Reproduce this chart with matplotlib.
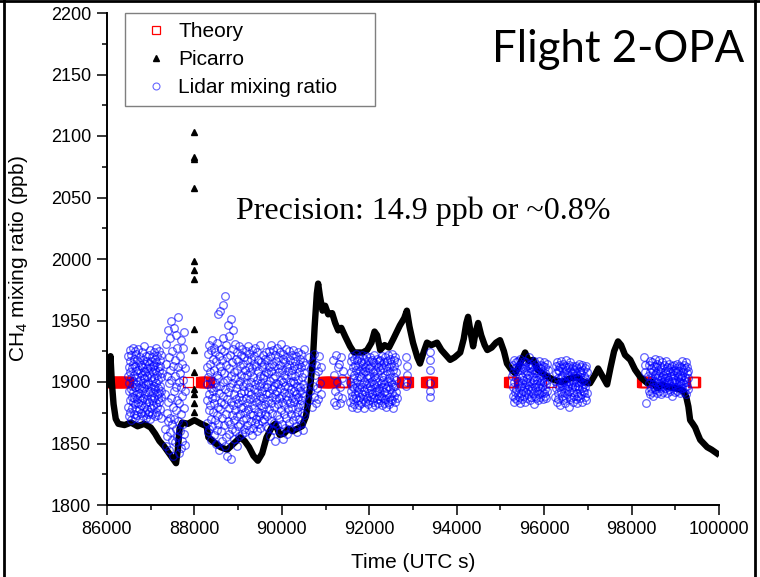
import numpy as np
import matplotlib
matplotlib.use("Agg")
import matplotlib.pyplot as plt
from matplotlib.lines import Line2D
from matplotlib.ticker import MultipleLocator

plt.rcParams['font.family'] = ['Liberation Sans', 'DejaVu Sans']
plt.rcParams['mathtext.default'] = 'regular'

# ---------------- data ----------------
x_ticks = [86000, 88000, 90000, 92000, 94000, 96000, 98000, 100000]
y_ticks = [1800, 1850, 1900, 1950, 2000, 2050, 2100, 2150, 2200]

theory_value = 1900
theory_start = [86000, 87850, 88150, 90940, 91380, 92750, 93300, 95200, 96150, 98230, 99400]
theory_end   = [86480, 87850, 88330, 91170, 91450, 92890, 93440, 95280, 96150, 98330, 99460]
theory_step = 20

pic_t = [86000, 86040, 86080, 86110, 86150, 86200, 86260, 86400, 86550, 86700, 86850, 87000,
         87100, 87200, 87300, 87400, 87500, 87580, 87620, 87660, 87720, 87850, 88000, 88150,
         88280, 88320, 88450, 88600, 88750, 88900, 89050, 89150, 89250, 89350, 89450, 89550,
         89650, 89780, 89850, 89950, 90050, 90150, 90250, 90350, 90460, 90550, 90600, 90660,
         90710, 90750, 90800, 90830, 90870, 90930, 90990, 91060, 91150, 91220, 91290, 91360,
         91450, 91560, 91650, 91750, 91850, 91950, 92050, 92120, 92180, 92250, 92350, 92450,
         92550, 92700, 92800, 92860, 92920, 93000, 93100, 93160, 93250, 93320, 93420, 93550,
         93650, 93750, 93850, 93950, 94080, 94160, 94220, 94260, 94320, 94375, 94430, 94490,
         94560, 94640, 94700, 94800, 94900, 94990, 95080, 95150, 95250, 95340, 95450, 95565,
         95650, 95750, 95850, 96000, 96200, 96400, 96600, 96755, 96900, 97050, 97150, 97235,
         97330, 97440, 97520, 97600, 97690, 97760, 97850, 97970, 98080, 98200, 98360, 98470,
         98590, 98700, 98815, 99000, 99180, 99250, 99300, 99340, 99400, 99455, 99510, 99570,
         99650, 99730, 99830, 99950]
pic_v = [1898, 1910, 1921, 1900, 1882, 1870, 1866, 1865, 1867, 1864, 1866, 1863,
         1858, 1852, 1848, 1843, 1838, 1834, 1845, 1862, 1867, 1866, 1869, 1866,
         1864, 1855, 1851, 1847, 1845, 1850, 1855, 1852, 1847, 1840, 1836, 1842,
         1855, 1864, 1866, 1857, 1858, 1862, 1860, 1862, 1864, 1872, 1883, 1900,
         1918, 1945, 1972, 1980, 1970, 1958, 1962, 1955, 1956, 1948, 1942, 1944,
         1937, 1929, 1924, 1924, 1924, 1926, 1932, 1941, 1938, 1926, 1930, 1928,
         1935, 1946, 1952, 1958, 1945, 1932, 1920, 1915, 1925, 1932, 1930, 1932,
         1926, 1922, 1918, 1920, 1924, 1935, 1948, 1953, 1940, 1929, 1940, 1948,
         1938, 1930, 1926, 1928, 1932, 1934, 1925, 1915, 1910, 1907, 1915, 1924,
         1917, 1918, 1910, 1906, 1902, 1900, 1903, 1904, 1900, 1899, 1905, 1911,
         1905, 1898, 1912, 1925, 1933, 1930, 1922, 1918, 1910, 1904, 1899, 1900,
         1895, 1898, 1896, 1895, 1893, 1888, 1880, 1869, 1866, 1863, 1858, 1853,
         1850, 1847, 1845, 1842]

spike_t = [87990, 87990, 87995, 87990, 87990, 87990, 87995, 87990, 87990, 87990, 87995, 87990, 87990, 87995]
spike_v = [2103, 2083, 2081, 2058, 1998, 1991, 1984, 1943, 1926, 1908, 1894, 1890, 1883, 1876]

lidar_c1_span = (86480, 87250)
lidar_c1 = [1905, 1880, 1921, 1893, 1872, 1912, 1899, 1926, 1885, 1908, 1876, 1917, 1894, 1903, 1869,
            1922, 1888, 1911, 1897, 1879, 1928, 1901, 1884, 1915, 1892, 1874, 1919, 1906, 1887, 1925,
            1896, 1871, 1913, 1882, 1909, 1898, 1877, 1923, 1890, 1904, 1886, 1918, 1873, 1900, 1927,
            1883, 1910, 1895, 1878, 1916, 1891, 1907, 1870, 1920, 1889, 1902, 1881, 1914, 1897, 1875,
            1924, 1893, 1906, 1885, 1912, 1899, 1872, 1918, 1887, 1909, 1880, 1929, 1895, 1903, 1876,
            1915, 1890, 1908, 1883, 1921, 1898, 1871, 1911, 1886, 1905, 1878, 1917, 1892, 1900, 1874,
            1898, 1915, 1876, 1907, 1922, 1884, 1893, 1911, 1870, 1926, 1889, 1904, 1879, 1917, 1896,
            1885, 1920, 1901, 1874, 1913, 1892, 1908, 1881, 1924, 1897, 1887, 1914, 1903, 1872, 1919,
            1894, 1910, 1883, 1928, 1899, 1876, 1916, 1890, 1906, 1880, 1921, 1895, 1886, 1912, 1902,
            1873, 1925, 1891, 1909, 1884, 1918, 1897, 1878, 1913, 1904, 1888, 1922, 1893, 1871, 1907]

lidar_c2_span = (87330, 87790)
lidar_c2 = [1890, 1862, 1915, 1848, 1931, 1875, 1905, 1856, 1942, 1884, 1868, 1920, 1899, 1845, 1936,
            1871, 1910, 1859, 1950, 1887, 1902, 1866, 1925, 1853, 1880, 1913, 1840, 1944, 1893, 1870,
            1918, 1851, 1905, 1877, 1938, 1862, 1896, 1928, 1855, 1885, 1912, 1868, 1953, 1842, 1900,
            1883, 1921, 1860, 1907, 1846, 1934, 1874, 1896, 1915, 1852, 1889, 1928, 1866, 1902, 1941,
            1858, 1879, 1911, 1849, 1893]

lidar_c3_span = (88280, 90530)
lidar_c3 = [1885, 1912, 1867, 1898, 1923, 1859, 1904, 1877, 1930, 1890, 1862, 1915, 1881, 1908, 1853,
            1926, 1895, 1870, 1934, 1887, 1901, 1864, 1919, 1876, 1893, 1928, 1857, 1910, 1883, 1899,
            1869, 1924, 1888, 1850, 1917, 1896, 1873, 1906, 1861, 1932, 1880, 1955, 1903, 1866, 1921,
            1891, 1845, 1913, 1878, 1958, 1897, 1860, 1927, 1884, 1909, 1852, 1918, 1871, 1900, 1936,
            1889, 1963, 1865, 1907, 1882, 1925, 1848, 1894, 1970, 1874, 1914, 1855, 1930, 1886, 1902,
            1840, 1920, 1868, 1946, 1892, 1879, 1911, 1858, 1937, 1896, 1866, 1922, 1884, 1837, 1905,
            1951, 1873, 1916, 1862, 1899, 1942, 1881, 1927, 1854, 1908, 1890, 1869, 1931, 1877, 1903,
            1860, 1919, 1886, 1895, 1848, 1924, 1872, 1910, 1883, 1864, 1917, 1898, 1856, 1929, 1888,
            1901, 1874, 1913, 1866, 1922, 1891, 1879, 1906, 1858, 1927, 1885, 1897, 1869, 1915, 1880,
            1904, 1862, 1920, 1893, 1876, 1910, 1859, 1925, 1887, 1899, 1871, 1918, 1883, 1906, 1865,
            1929, 1892, 1878, 1912, 1861, 1923, 1896, 1874, 1908, 1886, 1868, 1919, 1890, 1900, 1857,
            1926, 1881, 1911, 1873, 1904, 1863, 1921, 1894, 1879, 1915, 1867, 1928, 1888, 1898, 1870,
            1913, 1884, 1902, 1860, 1924, 1892, 1876, 1909, 1866, 1918, 1885, 1897, 1872, 1930, 1889,
            1905, 1863, 1916, 1881, 1899, 1875, 1912, 1893, 1868, 1922, 1887, 1903, 1879, 1915, 1870,
            1906, 1896, 1882, 1919, 1874, 1908, 1890, 1864, 1924, 1898,
            1896, 1872, 1918, 1885, 1907, 1863, 1925, 1891, 1878, 1912, 1901, 1856, 1921, 1883, 1909,
            1868, 1930, 1894, 1875, 1915, 1888, 1903, 1861, 1926, 1897, 1880, 1913, 1867, 1922, 1890,
            1905, 1852, 1917, 1886, 1899, 1873, 1928, 1893, 1865, 1911, 1882, 1920, 1898, 1870, 1908,
            1887, 1924, 1860, 1914, 1895, 1877, 1902, 1889, 1931, 1866, 1910, 1884, 1919, 1900, 1854,
            1923, 1892, 1874, 1906, 1881, 1916, 1897, 1863, 1927, 1889, 1903, 1871, 1912, 1885, 1920,
            1858, 1909, 1896, 1878, 1925, 1891, 1867, 1914, 1900, 1883, 1918, 1874, 1906, 1894, 1862,
            1922, 1887, 1910, 1879, 1901, 1869, 1926, 1893, 1884, 1913, 1899, 1872, 1917, 1886, 1905,
            1864, 1921, 1890, 1876, 1911, 1897, 1859, 1924, 1888, 1902, 1880, 1915, 1870, 1908, 1893,
            1882, 1919, 1896, 1866, 1912, 1885, 1923, 1875, 1904, 1891, 1861, 1916, 1898, 1881, 1927,
            1889, 1907, 1873, 1914, 1895]

lidar_c4_span = (90600, 90900)
lidar_c4 = [1902, 1885, 1920, 1893, 1911, 1880, 1916, 1897, 1888, 1923,
            1906, 1883, 1914, 1895, 1909, 1886, 1921, 1899, 1890, 1912]

lidar_c5_span = (91170, 91400)
lidar_c5 = [1918, 1884, 1906, 1893, 1922, 1881, 1900, 1912, 1889, 1915, 1896, 1883, 1920, 1903, 1887, 1909]

lidar_c6_span = (91560, 92630)
lidar_c6 = [1900, 1884, 1917, 1893, 1908, 1880, 1921, 1897, 1889, 1912, 1903, 1886, 1919, 1895, 1906,
            1882, 1914, 1899, 1890, 1923, 1887, 1910, 1896, 1879, 1918, 1902, 1892, 1913, 1885, 1905,
            1920, 1894, 1881, 1909, 1898, 1888, 1916, 1904, 1883, 1911, 1896, 1922, 1890, 1907, 1886,
            1915, 1900, 1879, 1919, 1893, 1909, 1884, 1912, 1898, 1889, 1921, 1903, 1887, 1914, 1895,
            1906, 1882, 1917, 1899, 1891, 1911, 1885, 1920, 1897, 1904, 1888, 1913, 1894, 1880, 1918,
            1901, 1890, 1908, 1884, 1916, 1898, 1887, 1922, 1905, 1892, 1910, 1881, 1915, 1896, 1903,
            1886, 1919, 1893, 1907, 1883, 1912, 1900, 1889, 1917, 1895,
            1893, 1910, 1885, 1918, 1899, 1889, 1914, 1904, 1881, 1921, 1896, 1887, 1911, 1902, 1883,
            1916, 1898, 1892, 1920, 1906, 1886, 1913, 1895, 1880, 1917, 1901, 1890, 1909, 1884, 1922,
            1897, 1888, 1912, 1903, 1882, 1919, 1894, 1907, 1886, 1915, 1900, 1891, 1923, 1898, 1885,
            1910, 1896, 1879, 1918, 1904, 1889, 1913, 1897, 1884, 1920, 1902, 1892, 1908, 1887, 1916]

lidar_c7_t = [92850, 92860, 92870, 92860, 92850, 93380, 93390, 93400, 93390, 93380, 93400]
lidar_c7 = [1920, 1913, 1906, 1900, 1897, 1924, 1918, 1910, 1899, 1893, 1888]

lidar_c8_span = (95270, 96080)
lidar_c8 = [1905, 1889, 1914, 1896, 1908, 1884, 1918, 1900, 1892, 1911, 1887, 1903, 1916, 1894, 1909,
            1885, 1912, 1898, 1890, 1917, 1901, 1888, 1913, 1895, 1906, 1883, 1919, 1897, 1910, 1891,
            1904, 1886, 1915, 1899, 1893, 1911, 1902, 1889, 1917, 1896, 1907, 1884, 1912, 1900, 1892,
            1916, 1898, 1887, 1909, 1903, 1894, 1914, 1890, 1906, 1897, 1920, 1885, 1911, 1901, 1893,
            1908, 1888, 1915, 1899, 1895, 1913, 1904, 1891, 1910, 1882, 1902, 1917, 1896, 1907, 1889,
            1898, 1910, 1887, 1915, 1902, 1893, 1908, 1885, 1912, 1897, 1904, 1890, 1917, 1899, 1895,
            1911, 1888, 1906, 1901, 1914, 1892, 1909, 1896, 1886, 1913, 1903, 1891, 1916, 1900, 1894,
            1907, 1889, 1912, 1898, 1905, 1887, 1915, 1902, 1893, 1910]

lidar_c9_span = (96250, 96980)
lidar_c9 = [1901, 1888, 1913, 1895, 1907, 1884, 1916, 1898, 1891, 1910, 1903, 1886, 1914, 1896, 1909,
            1881, 1912, 1899, 1893, 1917, 1904, 1889, 1911, 1897, 1906, 1885, 1915, 1900, 1892, 1908,
            1902, 1883, 1913, 1895, 1910, 1887, 1918, 1899, 1894, 1906, 1890, 1912, 1897, 1905, 1880,
            1914, 1901, 1893, 1909, 1886, 1916, 1898, 1903, 1888, 1911, 1896, 1907, 1884, 1913, 1900,
            1892, 1910, 1889, 1905, 1897,
            1896, 1908, 1886, 1913, 1900, 1891, 1906, 1883, 1911, 1897, 1903, 1889, 1915, 1899, 1894,
            1909, 1887, 1904, 1900, 1912, 1890, 1907, 1895, 1884, 1914, 1902, 1893, 1910, 1898, 1892,
            1905, 1888, 1911, 1896, 1903, 1885, 1913, 1900, 1891, 1908]

lidar_c10_span = (98380, 99300)
lidar_c10 = [1905, 1893, 1914, 1899, 1908, 1890, 1917, 1902, 1895, 1911, 1904, 1892, 1916, 1898, 1909,
             1889, 1913, 1901, 1896, 1919, 1906, 1894, 1912, 1900, 1907, 1891, 1915, 1903, 1897, 1910,
             1905, 1893, 1918, 1899, 1908, 1895, 1913, 1902, 1890, 1911, 1904, 1897, 1916, 1900, 1906,
             1892, 1914, 1901, 1898, 1909, 1903, 1895, 1917, 1899, 1907, 1891, 1912, 1904, 1896, 1910,
             1902, 1894, 1915, 1900, 1908, 1893, 1911, 1905, 1897, 1913, 1901, 1889, 1909, 1903, 1896,
             1914, 1900, 1906, 1892, 1910,
             1902, 1896, 1911, 1899, 1907, 1893, 1915, 1904, 1897, 1909, 1901, 1894, 1913, 1900, 1906,
             1891, 1912, 1903, 1898, 1917, 1905, 1895, 1910, 1899, 1908, 1892, 1914, 1902, 1896, 1911,
             1904, 1890, 1916, 1900, 1907, 1897, 1912, 1903, 1894, 1909]
lidar_c10_extra_t = [98290, 98310, 98330, 98300]
lidar_c10_extra = [1920, 1914, 1883, 1908]

legend_labels = ["Theory", "Picarro", "Lidar mixing ratio"]
title_text = "Flight 2-OPA"
note_text = "Precision: 14.9 ppb or ~0.8%"

# ---------------- figure ----------------
W, H = 760, 577
fig = plt.figure(figsize=(W / 100, H / 100), dpi=100)
ax = fig.add_axes([107 / W, 1 - 505 / H, 612 / W, 492 / H])

lidar_blue = (0.0, 0.0, 1.0, 0.6)

# Theory
th_t = np.concatenate([np.arange(s, e + 1, theory_step) for s, e in zip(theory_start, theory_end)])
ax.plot(th_t, np.full(th_t.shape, theory_value, dtype=float), ls='none', marker='s', ms=7,
        mfc='none', mec='red', mew=0.9, zorder=2)

# Picarro
ax.plot(pic_t, pic_v, color='black', lw=4.6, zorder=3)
ax.plot(spike_t, spike_v, ls='none', marker='^', ms=4, color='black', zorder=3)

# Lidar
spans = [lidar_c1_span, lidar_c2_span, lidar_c3_span, lidar_c4_span, lidar_c5_span,
         lidar_c6_span, lidar_c8_span, lidar_c9_span, lidar_c10_span]
vals = [lidar_c1, lidar_c2, lidar_c3, lidar_c4, lidar_c5, lidar_c6, lidar_c8, lidar_c9, lidar_c10]
lid_kw = dict(ls='none', marker='o', ms=5.5, mfc='none', mec=lidar_blue, mew=0.9, zorder=4)
for (t0, t1), v in zip(spans, vals):
    ax.plot(np.linspace(t0, t1, len(v)), v, **lid_kw)
ax.plot(lidar_c7_t, lidar_c7, **lid_kw)
ax.plot(lidar_c10_extra_t, lidar_c10_extra, **lid_kw)

# axes styling
ax.set_xlim(86000, 100000)
ax.set_ylim(1800, 2200)
ax.set_xticks(x_ticks)
ax.set_yticks(y_ticks)
ax.xaxis.set_minor_locator(MultipleLocator(1000))
ax.yaxis.set_minor_locator(MultipleLocator(25))
for s in ['top', 'right']:
    ax.spines[s].set_visible(False)
for s in ['left', 'bottom']:
    ax.spines[s].set_linewidth(1.4)
ax.tick_params(which='major', direction='out', length=7, width=1.1, labelsize=13, pad=4.5)
ax.tick_params(which='minor', direction='out', length=3.6, width=1.1)

ax.set_xlabel("Time (UTC s)", fontsize=15, va='center', ha='center')
ax.xaxis.set_label_coords(0.5, (505 - 563) / 492)
ax.set_ylabel("CH$_4$ mixing ratio (ppb)", fontsize=15, va='center', ha='center')
ax.yaxis.set_label_coords((18 - 107) / 612, 0.5)

# legend
h1 = Line2D([], [], ls='none', marker='s', ms=6, mfc='none', mec='red', mew=0.9)
h2 = Line2D([], [], ls='none', marker='^', ms=4, color='black')
h3 = Line2D([], [], ls='none', marker='o', ms=5, mfc='none', mec=lidar_blue, mew=0.8)
leg = ax.legend([h1, h2, h3], legend_labels, loc='upper left',
                bbox_to_anchor=((125 - 107) / 612, 1.0, 250 / 612, 0.0), mode='expand',
                borderaxespad=0, fontsize=15, frameon=True, fancybox=False,
                edgecolor='#7f7f7f', framealpha=1, borderpad=0.45, labelspacing=0.42,
                handlelength=2.1, handletextpad=0.0)
leg.get_frame().set_linewidth(1.0)

# texts
fig.text(492 / W, 1 - 62 / H, title_text, fontsize=31.5, family=['Lato', 'DejaVu Sans'],
         ha='left', va='baseline')
fig.text(236 / W, 1 - 219 / H, note_text, fontsize=23, family=['Liberation Serif', 'DejaVu Serif'],
         ha='left', va='baseline')

# slide frame
fig.add_artist(Line2D([4 / W, 4 / W], [0, 1], transform=fig.transFigure, color='black', lw=2))
fig.add_artist(Line2D([755 / W, 755 / W], [0, 1], transform=fig.transFigure, color='black', lw=2))
fig.add_artist(Line2D([0, 1], [1 - 1 / H, 1 - 1 / H], transform=fig.transFigure, color='black', lw=2))

fig.savefig("out.png", dpi=100)
